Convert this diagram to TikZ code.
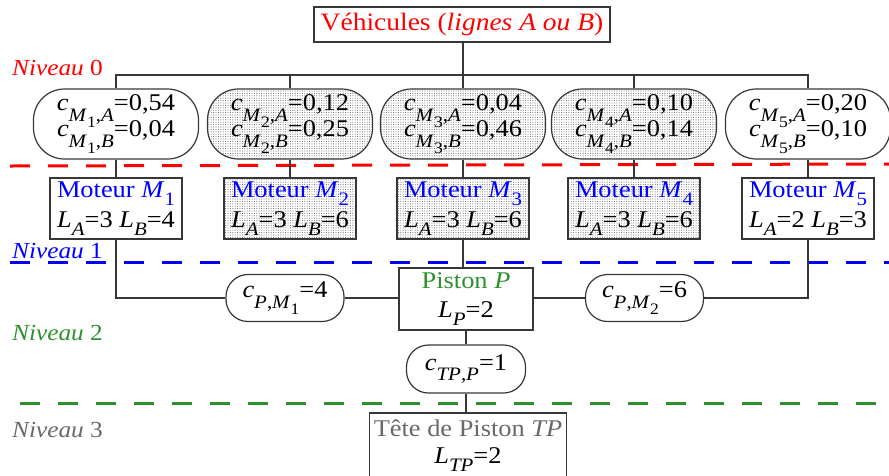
\documentclass[tikz,border=0pt]{standalone}
\usepackage{fontspec}
\setmainfont[FakeStretch=1.1]{Liberation Serif}
\usetikzlibrary{patterns.meta}
\definecolor{lgreen}{RGB}{45,145,45}
\definecolor{lgray}{RGB}{105,105,105}
\definecolor{edge}{RGB}{55,55,55}
\newcommand\sbs[2][0.34em]{\raisebox{-#1}{\fontsize{19}{19}\selectfont #2}}
\newcommand\ssbs[1]{\raisebox{-0.33em}{\fontsize{16}{16}\selectfont #1}}
\newcommand\cval[3]{\textit{c}\sbs[0.45em]{\textit{M}\ssbs{#1},\textit{#2}}=#3}
\newcommand\lval[2]{\textit{L}\sbs{\textit{A}}=#1 \textit{L}\sbs{\textit{B}}=#2}
\newcommand\fsz[2]{\fontsize{#1}{#2}\selectfont\lineskiplimit-100pt\relax}
\begin{document}
\begin{tikzpicture}[x=1pt,y=-1pt,
  base/.style={draw=edge, line width=1.2pt, inner sep=0pt, align=center,
    font={\fsz{24}{26}}},
  cbox/.style={base, rounded corners=31pt, minimum width=165pt, minimum height=70pt},
  mbox/.style={base, minimum width=132pt, minimum height=61pt,
    font={\fsz{24}{30}}},
  pbox/.style={base, rounded corners=22pt, minimum width=118pt, minimum height=47pt},
  dotted fill/.style={pattern={Dots[distance=2.4pt,radius=0.5pt]}, pattern color=black!65},
  conn/.style={draw=edge, line width=1.2pt},
  level/.style={anchor=base west, inner sep=0pt, font={\fsz{23}{23}}},
  sep/.style={line width=3pt, dash pattern=on 20pt off 18pt}
]
\useasboundingbox (0,0) rectangle (889,475);

% separators
\draw[sep, red] (10,166) -- (889,164);
\draw[sep, blue] (10,262) -- (889,262);
\draw[sep, lgreen] (20,403) -- (889,403);

% level labels
\node[level, red] (n0) at (12,75) {\textit{Niveau} 0};
\node[level, blue] (n1) at (12,258) {\textit{Niveau} 1};
\node[level, lgreen] (n2) at (12,340) {\textit{Niveau} 2};
\node[level, lgray] (n3) at (12,437) {\textit{Niveau} 3};

% title
\node[base, minimum width=296pt, minimum height=35pt, font={\fsz{25}{27}}]
  (title) at (462,24.5) {\textcolor{red}{Véhicules (\textit{lignes A ou B})}};

% level 0 coefficient boxes
\node[cbox] (c1) at (116,124) {\cval{1}{A}{0,54}\\\cval{1}{B}{0,04}};
\node[cbox, dotted fill] (c2) at (290,124) {\cval{2}{A}{0,12}\\\cval{2}{B}{0,25}};
\node[cbox, dotted fill] (c3) at (463,124) {\cval{3}{A}{0,04}\\\cval{3}{B}{0,46}};
\node[cbox, dotted fill] (c4) at (634,124) {\cval{4}{A}{0,10}\\\cval{4}{B}{0,14}};
\node[cbox] (c5) at (808,124) {\cval{5}{A}{0,20}\\\cval{5}{B}{0,10}};

% level 1 engines
\node[mbox] (m1) at (116,208.5) {\textcolor{blue}{Moteur \textit{M}\sbs{1}}\\\lval{3}{4}};
\node[mbox, dotted fill] (m2) at (290,208.5) {\textcolor{blue}{Moteur \textit{M}\sbs{2}}\\\lval{3}{6}};
\node[mbox, dotted fill] (m3) at (463,208.5) {\textcolor{blue}{Moteur \textit{M}\sbs{3}}\\\lval{3}{6}};
\node[mbox, dotted fill] (m4) at (634,208.5) {\textcolor{blue}{Moteur \textit{M}\sbs{4}}\\\lval{3}{6}};
\node[mbox] (m5) at (808,208.5) {\textcolor{blue}{Moteur \textit{M}\sbs{5}}\\\lval{2}{3}};

% level 2
\node[base, minimum width=134pt, minimum height=62pt, font={\fsz{24}{29}}]
  (piston) at (466,299) {\textcolor{lgreen}{Piston \textit{P}}\\\textit{L}\sbs{\textit{P}}=2};
\node[pbox] (cp1) at (285,298) {\textit{c}\sbs[0.45em]{\textit{P},\textit{M}\ssbs{1}}=4};
\node[pbox] (cp2) at (644.5,298) {\textit{c}\sbs[0.45em]{\textit{P},\textit{M}\ssbs{2}}=6};
\node[pbox, minimum width=119pt, minimum height=48pt] (ctp) at (466,369)
  {\textit{c}\sbs[0.42em]{\textit{TP},\textit{P}}=1};

% level 3
\node[base, minimum width=197pt, minimum height=66pt, font={\fsz{24}{27}}]
  (tete) at (468,446) {\textcolor{lgray}{Tête de Piston \textit{TP}}\\\textit{L}\sbs{\textit{TP}}=2};

% connectors
\coordinate (bus) at (0,75);
\draw[conn] (title.south -| c3.north) -- (c3.north);
\draw[conn] (c1.north) |- (bus -| c5.north) -- (c5.north);
\draw[conn] (c2.north) -- (c2.north |- bus);
\draw[conn] (c4.north) -- (c4.north |- bus);
\foreach \i in {1,...,5} {\draw[conn] (c\i.south) -- (m\i.north);}
\draw[conn] (m1.south) |- (cp1.west);
\draw[conn] (cp1.east) -- (cp1.east -| piston.west);
\draw[conn] (cp2.west) -- (cp2.west -| piston.east);
\draw[conn] (cp2.east) -| (m5.south);
\draw[conn] (m3.south) -- (m3.south |- piston.north);
\draw[conn] (piston.south) -- (ctp.north);
\draw[conn] (ctp.south) -- (ctp.south |- tete.north);
\end{tikzpicture}
\end{document}
